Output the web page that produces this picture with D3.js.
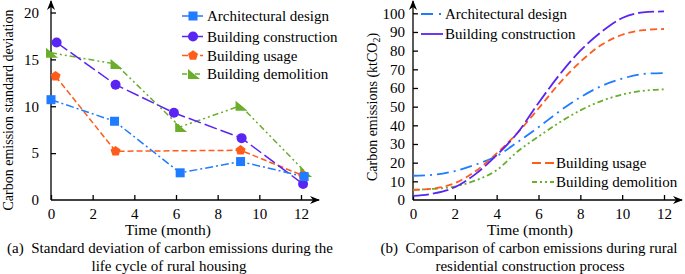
<!DOCTYPE html>
<html>
<head>
    <meta charset="utf-8">
    <title>Carbon emissions of rural housing</title>
    <script src="https://cdn.jsdelivr.net/npm/d3@7"></script>
    <style>
        body { margin: 0; background: #fff; }
        text { font-family: "Liberation Serif", "Times New Roman", serif; fill: #000; }
        .tick text { font-size: 15px; }
        .tick line, .axis-line { stroke: #000; stroke-width: 1.3; }
    </style>
</head>
<body>
<div id="chart"></div>
<script>
    // ---- data (a) standard deviation ----
    const seriesNames = ["Architectural design", "Building construction", "Building usage", "Building demolition"];
    const colors = ["#1f7bff", "#5a24f2", "#ff5c1c", "#6aae2b"];
    const designX = [0, 3.05, 6.2, 9.1, 12.15];
    const designY = [10.7, 8.4, 2.9, 4.1, 2.5];
    const constructionX = [0.27, 3.1, 5.9, 9.15, 12.1];
    const constructionY = [16.8, 12.3, 9.3, 6.6, 1.7];
    const usageX = [0.22, 3.1, 9.1, 12.1];
    const usageY = [13.2, 5.2, 5.3, 2.6];
    const demolitionX = [0, 3.1, 6.2, 9.1, 12.2];
    const demolitionY = [15.7, 14.5, 7.8, 10.05, 3.0];

    // ---- data (b) cumulative emissions, monthly ----
    const months = [0, 1, 2, 3, 4, 5, 6, 7, 8, 9, 10, 11, 12];
    const designEm = [13, 13.5, 15.5, 19, 23.5, 31, 39, 47.5, 55, 61, 65, 67.5, 68];
    const constructionEm = [2.2, 3.5, 6.8, 14, 24, 36, 52, 67, 80, 90, 97.5, 100.5, 101];
    const usageEm = [5.4, 6.2, 9, 15.5, 25, 36, 49, 62.5, 74, 83, 88.5, 91, 91.6];
    const demolitionEm = [5.5, 6, 7.2, 10.5, 16, 26, 34, 41.5, 48, 53, 56.5, 58.5, 59.3];

    const xTicks = [0, 2, 4, 6, 8, 10, 12];
    const yTicksA = [0, 5, 10, 15, 20];
    const yTicksB = [0, 10, 20, 30, 40, 50, 60, 70, 80, 90, 100];

    const dashA = ["8,3,2,3", "13,4", "6,3", "6,3,2,3,2,3"];
    const dashB = ["12,5,2,5", "16,4", "7,4", "6,3,2,3,2,3"];

    const svg = d3.select("#chart").append("svg")
        .attr("width", 685).attr("height", 274);

    svg.append("defs").append("marker")
        .attr("id", "arrow").attr("viewBox", "0 0 10 10")
        .attr("refX", 9).attr("refY", 5)
        .attr("markerWidth", 10).attr("markerHeight", 10)
        .attr("markerUnits", "userSpaceOnUse")
        .attr("orient", "auto")
        .append("path").attr("d", "M0,1 L10,5 L0,9 L3,5 Z").attr("fill", "#000");

    function drawAxes(x, y, yTicks, labelPad, xEnd, yTop) {
        const gx = svg.append("g")
            .attr("transform", `translate(0,${y(0)})`)
            .call(d3.axisBottom(x).tickValues(xTicks).tickSize(-5).tickSizeOuter(0).tickPadding(8));
        gx.select(".domain").remove();
        const gy = svg.append("g")
            .attr("transform", `translate(${x(0)},0)`)
            .call(d3.axisLeft(y).tickValues(yTicks).tickSize(-5).tickSizeOuter(0).tickPadding(labelPad));
        gy.select(".domain").remove();
        gy.selectAll(".tick").filter(d => d === 0).select("line").remove();
        svg.append("line").attr("class", "axis-line")
            .attr("x1", x(0)).attr("x2", xEnd).attr("y1", y(0)).attr("y2", y(0))
            .attr("marker-end", "url(#arrow)");
        svg.append("line").attr("class", "axis-line")
            .attr("x1", x(0)).attr("x2", x(0)).attr("y1", y(0)).attr("y2", yTop)
            .attr("marker-end", "url(#arrow)");
    }

    // markers
    function marker(g, i, cx, cy, s) {
        const c = colors[i];
        if (i === 0) {
            g.append("rect").attr("x", cx - s / 2).attr("y", cy - s / 2)
                .attr("width", s).attr("height", s).attr("fill", c);
        } else if (i === 1) {
            g.append("circle").attr("cx", cx).attr("cy", cy).attr("r", s / 2 + 0.5).attr("fill", c);
        } else if (i === 2) {
            const r = s / 2 + 0.8;
            const pts = d3.range(5).map(k => {
                const a = -Math.PI / 2 + k * 2 * Math.PI / 5;
                return [cx + r * Math.cos(a), cy + r * Math.sin(a)];
            });
            g.append("polygon").attr("points", pts.map(p => p.join(",")).join(" ")).attr("fill", c);
        } else {
            const h = s / 2 + 0.5;
            g.append("polygon")
                .attr("points", `${cx - h},${cy - h} ${cx - h},${cy + h} ${cx + h + 2},${cy + h}`)
                .attr("fill", c);
        }
    }

    // ================= chart (a) =================
    const xA = d3.scaleLinear().domain([0, 12]).range([51, 301]);
    const yA = d3.scaleLinear().domain([0, 20]).range([200, 12.5]);
    drawAxes(xA, yA, yTicksA, 12, 319, 1);

    const seriesA = [
        [designX, designY], [constructionX, constructionY],
        [usageX, usageY], [demolitionX, demolitionY]
    ];
    const lineA = d3.line().x(d => xA(d[0])).y(d => yA(d[1]));
    // draw order: demolition, usage, construction, design
    [3, 2, 1, 0].forEach(i => {
        const pts = d3.zip(seriesA[i][0], seriesA[i][1]);
        svg.append("path").datum(pts).attr("d", lineA)
            .attr("fill", "none").attr("stroke", colors[i]).attr("stroke-width", 1.5)
            .attr("stroke-dasharray", dashA[i]);
    });
    [3, 2, 1, 0].forEach(i => {
        const g = svg.append("g");
        d3.zip(seriesA[i][0], seriesA[i][1]).forEach(p => marker(g, i, xA(p[0]), yA(p[1]), 9));
    });

    // legend (a)
    seriesNames.forEach((name, i) => {
        const ly = [16, 36.5, 55.5, 74][i];
        const g = svg.append("g");
        g.append("line").attr("x1", 182).attr("x2", 203).attr("y1", ly).attr("y2", ly)
            .attr("stroke", colors[i]).attr("stroke-width", 1.5).attr("stroke-dasharray", i === 0 ? "9,2,2,2" : (i === 3 ? "5,3,2,3" : (i === 2 ? "6,3" : null)));
        marker(g, i, 193, ly, 9);
        g.append("text").attr("x", 207).attr("y", ly + 5).attr("font-size", 15).text(name);
    });

    svg.append("text").attr("transform", "translate(13,110) rotate(-90)")
        .attr("text-anchor", "middle").attr("font-size", 14)
        .text("Carbon emission standard deviation");
    svg.append("text").attr("x", 168).attr("y", 235).attr("text-anchor", "middle")
        .attr("font-size", 15.5).text("Time (month)");
    svg.append("text").attr("x", 170).attr("y", 253).attr("text-anchor", "middle")
        .attr("font-size", 15).attr("xml:space", "preserve")
        .text("(a)  Standard deviation of carbon emissions during the");
    svg.append("text").attr("x", 169).attr("y", 271).attr("text-anchor", "middle")
        .attr("font-size", 15).text("life cycle of rural housing");

    // ================= chart (b) =================
    const xB = d3.scaleLinear().domain([0, 12]).range([413, 664]);
    const yB = d3.scaleLinear().domain([0, 100]).range([200, 13.3]);
    drawAxes(xB, yB, yTicksB, 8, 682, 1);

    const seriesB = [designEm, constructionEm, usageEm, demolitionEm];
    const lineB = d3.line().curve(d3.curveMonotoneX)
        .x((d, k) => xB(months[k])).y(d => yB(d));
    [3, 0, 2, 1].forEach(i => {
        svg.append("path").datum(seriesB[i]).attr("d", lineB)
            .attr("fill", "none").attr("stroke", colors[i]).attr("stroke-width", 1.8)
            .attr("stroke-dasharray", dashB[i]);
    });

    // legend (b)
    const legB = [
        { i: 0, x: 421, y: 14 }, { i: 1, x: 421, y: 34 },
        { i: 2, x: 532, y: 163 }, { i: 3, x: 532, y: 182 }
    ];
    legB.forEach(l => {
        svg.append("line").attr("x1", l.x).attr("x2", l.x + 22).attr("y1", l.y).attr("y2", l.y)
            .attr("stroke", colors[l.i]).attr("stroke-width", 1.8)
            .attr("stroke-dasharray", ["12,6,2", null, "9,4,9", "5,3,2,3,2,3"][l.i]);
        svg.append("text").attr("x", l.x + 24).attr("y", l.y + 5).attr("font-size", 15)
            .text(seriesNames[l.i]);
    });

    const yl = svg.append("text").attr("transform", "translate(377,107) rotate(-90)")
        .attr("text-anchor", "middle").attr("font-size", 14);
    yl.append("tspan").text("Carbon emissions (ktCO");
    yl.append("tspan").attr("font-size", 10).attr("dy", 3).text("2");
    yl.append("tspan").attr("dy", -3).text(")");

    svg.append("text").attr("x", 530).attr("y", 235).attr("text-anchor", "middle")
        .attr("font-size", 15.5).text("Time (month)");
    svg.append("text").attr("x", 529).attr("y", 253).attr("text-anchor", "middle")
        .attr("font-size", 15).attr("xml:space", "preserve")
        .text("(b)  Comparison of carbon emissions during rural");
    svg.append("text").attr("x", 530).attr("y", 271).attr("text-anchor", "middle")
        .attr("font-size", 15).text("residential construction process");
</script>
</body>
</html>
